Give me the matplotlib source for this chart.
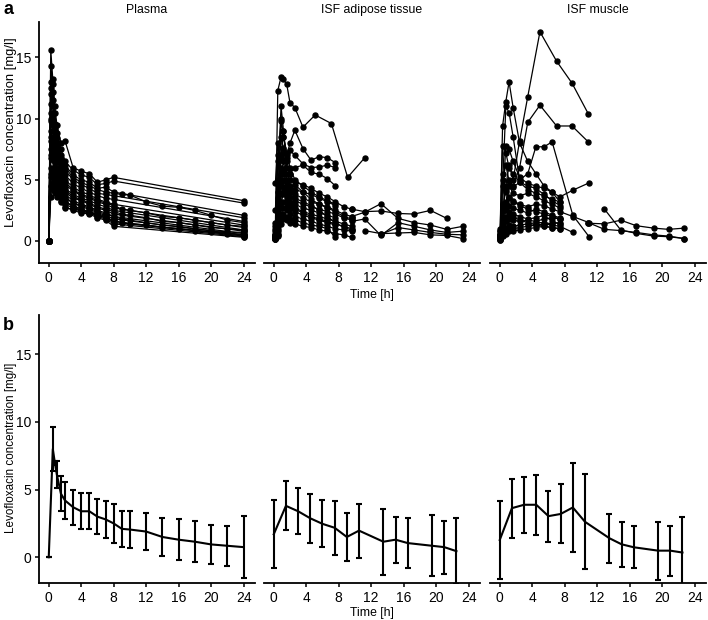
import numpy as np
import matplotlib
matplotlib.use("Agg")
import matplotlib.pyplot as plt

nan = np.nan
plt.rcParams['font.family'] = ['Liberation Sans', 'DejaVu Sans']

# ---------- panel a: individual profiles ----------
# plasma, sampled to 8 h then 24 h
plasma_t_short = [0, 0.25, 0.5, 0.75, 1, 1.5, 2, 3, 4, 5, 6, 7, 8, 24]
plasma_short = [
    [0, 15.6, 13.2, 11.0, 9.5, 8.0, 8.2, 6.0, 5.7, 5.5, 4.8, 5.0, 5.2, 3.3],
    [0, 14.3, 12.8, 10.5, 8.8, 7.5, 6.5, 5.8, 5.4, 5.2, 4.6, 4.7, 4.9, 3.1],
    [0, 13.0, 12.2, 9.6, 8.4, 7.0, 6.2, 5.4, 5.0, 4.8, 4.3, 4.4, 4.0, 2.1],
    [0, 12.0, 11.0, 9.0, 7.8, 6.6, 5.8, 5.0, 4.6, 4.3, 3.9, 3.8, 3.7, 1.9],
    [0, 11.2, 10.4, 8.4, 7.4, 6.2, 5.4, 4.7, 4.3, 4.0, 3.7, 3.5, 3.4, 1.6],
    [0, 10.5, 9.8, 8.0, 7.0, 5.8, 5.0, 4.4, 4.0, 3.8, 3.4, 3.2, 3.0, 1.3],
    [0, 9.8, 9.0, 7.5, 6.5, 5.4, 4.6, 4.1, 3.7, 3.5, 3.2, 3.0, 2.7, 1.1],
    [0, 9.0, 8.4, 7.0, 6.0, 5.0, 4.3, 3.8, 3.5, 3.3, 3.0, 2.8, 2.5, 0.9],
    [0, 8.2, 7.8, 6.4, 5.6, 4.6, 4.0, 3.5, 3.3, 3.0, 2.7, 2.5, 2.2, 0.8],
    [0, 7.5, 7.2, 6.0, 5.2, 4.4, 3.8, 3.3, 3.0, 2.8, 2.5, 2.3, 2.0, 0.6],
    [0, 6.8, 6.6, 5.5, 4.8, 4.1, 3.5, 3.1, 2.8, 2.6, 2.3, 2.1, 1.8, 0.5],
    [0, 6.0, 6.0, 5.1, 4.5, 3.8, 3.2, 2.9, 2.6, 2.4, 2.1, 1.9, 1.6, 0.4],
    [0, 5.2, 5.4, 4.6, 4.1, 3.5, 3.0, 2.7, 2.4, 2.3, 2.0, 1.8, 1.4, 0.35],
    [0, 4.5, 4.8, 4.2, 3.8, 3.3, 2.8, 2.5, 2.3, 2.2, 1.9, 1.7, 1.2, 0.3],
    [0, 3.6, 4.2, 3.9, 3.6, 3.2, 2.7, 2.6, 2.5, 2.4, 2.2, 2.0, 1.5, 0.5],
]
# plasma, full 24 h sampling
plasma_t_long = [0, 0.25, 0.5, 0.75, 1, 1.5, 2, 3, 4, 5, 6, 7, 8, 9, 10,
                 12, 14, 16, 18, 20, 22, 24]
plasma_long = [
    [0, 12.5, 11.5, 9.2, 8.0, 6.8, 6.0, 5.2, 4.8, 4.5, 4.2, 4.0, 3.9, 3.8,
     3.75, 3.2, 2.85, 2.75, 2.5, 2.1, 1.7, 1.5],
    [0, 10.0, 9.5, 7.8, 6.8, 5.6, 4.8, 4.2, 3.8, 3.6, 3.3, 3.1, 2.9, 2.6,
     2.5, 2.3, 2.0, 1.9, 1.7, 1.5, 1.3, 1.2],
    [0, 8.5, 8.0, 6.6, 5.8, 4.8, 4.2, 3.6, 3.4, 3.1, 2.8, 2.6, 2.4, 2.2,
     2.1, 1.9, 1.6, 1.5, 1.3, 1.1, 1.0, 0.9],
    [0, 7.0, 6.8, 5.8, 5.0, 4.2, 3.6, 3.1, 2.9, 2.7, 2.4, 2.2, 2.0, 1.8,
     1.7, 1.5, 1.3, 1.2, 1.0, 0.85, 0.75, 0.7],
    [0, 5.5, 5.8, 5.0, 4.4, 3.7, 3.2, 2.8, 2.5, 2.3, 2.1, 1.9, 1.7, 1.5,
     1.4, 1.3, 1.1, 1.0, 0.85, 0.7, 0.6, 0.5],
]

# ISF adipose tissue
adipose_t_early = [0.2, 0.5, 0.9, 1.2, 1.6, 2.0, 2.6, 3.6, 4.6, 5.6, 6.6,
                   7.6, 8.6, 9.6]
adipose_early = [
    [1.0, 6.5, 9.8, 8.5, 7.0, 8.0, 9.05, 7.55, 6.6, 6.9, 6.8, 6.4, nan, nan],
    [0.8, 4.0, 8.5, 7.6, 6.8, 7.4, 7.0, 6.3, 6.0, 6.05, 6.2, 6.0, nan, nan],
    [0.5, 3.2, 7.0, 9.0, 6.0, 5.5, 6.0, 6.2, 5.6, 5.46, 5.1, 4.5, nan, nan],
    [0.6, 2.5, 6.8, 7.2, 5.5, 5.0, 4.8, 4.6, 4.3, 3.9, 3.6, 3.2, 2.8, 2.6],
    [0.4, 2.0, 5.5, 6.5, 5.0, 4.5, 4.2, 4.0, 3.8, 3.5, 3.2, 2.9, nan, nan],
    [0.3, 1.5, 4.8, 5.8, 4.6, 4.0, 3.8, 3.5, 3.2, 3.0, 2.8, 2.5, 2.2, 2.0],
    [1.5, 3.5, 4.5, 5.0, 4.2, 3.6, 3.3, 3.0, 2.8, 2.6, 2.4, 2.2, 1.9, 1.7],
    [0.3, 1.2, 3.8, 4.4, 3.8, 3.2, 3.0, 2.7, 2.5, 2.3, 2.1, 1.9, nan, nan],
    [0.4, 1.0, 3.2, 3.8, 3.3, 2.9, 2.7, 2.4, 2.2, 2.0, 1.8, 1.6, 1.4, 1.2],
    [0.2, 0.8, 2.8, 3.2, 2.9, 2.6, 2.4, 2.1, 1.9, 1.7, 1.5, 1.3, nan, nan],
    [0.3, 0.6, 2.2, 2.7, 2.5, 2.2, 2.0, 1.8, 1.6, 1.4, 1.2, 1.0, 0.9, 0.8],
    [0.2, 0.5, 1.8, 2.2, 2.0, 1.8, 1.7, 1.5, 1.3, 1.2, 1.0, 0.3, nan, nan],
    [0.15, 0.4, 1.4, 1.8, 1.7, 1.5, 1.4, 1.2, 1.1, 0.9, 0.8, 0.6, 0.5, 0.3],
    [0.2, 3.0, 10.0, 8.5, 7.2, 6.0, 5.0, 4.5, 4.0, 3.6, 3.3, 3.0, nan, nan],
    [0.5, 5.0, 11.0, 9.0, 6.5, 5.5, 4.6, 4.0, 3.4, 3.0, 2.7, 2.4, 2.0, 1.8],
    [4.7, 8.0, 6.0, 5.5, 4.8, 4.2, 3.5, 3.2, 2.9, 2.5, 2.0, 1.5, 1.1, 0.9],
    [2.5, 7.0, 5.0, 4.0, 3.5, 3.0, 2.6, 2.3, 2.0, 1.8, 1.6, 1.4, 1.2, 1.0],
]
adipose_t_slow = [0.2, 0.5, 0.9, 1.2, 1.6, 2.0, 2.6, 3.6, 5.1, 7.1, 9.1, 11.2]
adipose_slow = [
    [1.2, 12.3, 13.4, 13.2, 12.8, 11.3, 10.9, 9.3, 10.3, 9.6, 5.2, 6.8],
]
adipose_t_late = [9.6, 11.2, 13.2, 15.3, 17.3, 19.3, 21.3, 23.3]
adipose_late = [
    [2.6, 2.4, 2.45, 2.25, 2.2, 2.5, 1.85, nan],
    [2.0, 2.35, 3.05, 1.85, 1.5, 1.3, 0.95, 1.2],
    [1.6, 1.8, 0.45, 1.5, 1.2, 0.9, 0.7, 0.8],
    [nan, 0.85, 0.6, 0.65, 0.7, 0.5, 0.45, 0.2],
    [nan, nan, 0.55, 1.1, 0.9, 0.7, 0.55, 0.5],
]

# ISF muscle
muscle_t_early = [0.05, 0.35, 0.75, 1.15, 1.65, 2.45, 3.45, 4.45, 5.45, 6.45,
                  7.4, 9.0, 11.0]
muscle_early = [
    [1.0, 9.4, 11.4, 13.0, 10.9, 8.0, 6.5, 5.5, 4.5, 4.0, 3.2, nan, nan],
    [0.5, 4.5, 11.0, 10.5, 8.5, 5.0, 5.5, 7.7, 7.7, 8.1, nan, 2.1, 0.35],
    [0.3, 3.0, 7.8, 7.5, 6.5, 5.2, 4.7, 4.5, 4.3, 4.0, 3.6, 4.15, 4.75],
    [0.8, 7.8, 7.2, 6.0, 5.5, 4.8, 4.2, 3.9, 3.7, 3.4, 3.2, nan, nan],
    [0.6, 5.0, 6.2, 4.9, 4.4, 4.8, 4.5, 4.3, 3.8, 3.3, 2.9, nan, nan],
    [0.4, 2.5, 4.2, 4.5, 3.9, 3.7, 3.9, 3.6, 3.3, 3.0, 2.7, nan, nan],
    [0.2, 1.5, 3.2, 3.6, 3.3, 3.0, 2.8, 3.0, 2.9, 2.6, 2.4, 2.0, 1.5],
    [0.3, 1.0, 2.5, 2.9, 2.7, 2.5, 2.3, 2.6, 2.4, 2.1, 1.9, nan, nan],
    [0.5, 2.0, 2.8, 2.4, 2.2, 2.0, 1.8, 1.9, 2.1, 1.6, 1.4, nan, nan],
    [0.2, 0.8, 1.6, 1.8, 1.7, 1.6, 1.7, 1.6, 1.8, 1.9, 1.8, nan, nan],
    [0.1, 0.6, 1.1, 1.3, 1.2, 1.3, 1.4, 1.5, 1.5, 1.4, 1.5, nan, nan],
    [0.3, 0.5, 0.9, 1.0, 1.0, 1.1, 1.2, 1.3, 1.4, 1.3, 1.2, 0.7, nan],
    [0.1, 0.4, 0.6, 0.8, 0.8, 0.9, 1.0, 1.1, 1.2, 1.1, 1.0, nan, nan],
    [0.2, 1.2, 2.0, 2.2, 2.0, 1.7, 1.5, 1.3, 1.2, 1.1, 1.0, nan, nan],
    [0.4, 5.5, 4.0, 3.5, 3.2, 2.9, 2.6, 2.4, 2.2, 2.0, 1.8, nan, nan],
]
muscle_t_slow = [0.05, 0.35, 0.75, 1.15, 1.65, 2.45, 3.45, 4.95, 7.0, 8.9, 10.9]
muscle_slow = [
    [0.8, 2.5, 4.5, 6.2, 5.0, 8.2, 11.8, 17.1, 14.7, 12.9, 10.4],
    [0.6, 1.5, 3.0, 5.0, 4.5, 6.0, 9.7, 11.1, 9.4, 9.4, 8.1],
]
muscle_t_late = [10.9, 12.9, 14.9, 16.8, 18.95, 20.8, 22.7]
muscle_late = [
    [1.45, 1.4, 1.7, 1.25, 1.05, 0.95, 1.05],
    [1.5, 0.95, 0.85, 0.7, 0.5, 0.4, 0.2],
    [nan, 2.6, 0.9, 0.62, 0.4, 0.35, 0.2],
]

# ---------- panel b: mean +/- SD ----------
plasma_mean_t = [0, 0.5, 0.75, 1, 1.5, 2, 3, 4, 5, 6, 7, 8, 9, 10, 12, 14,
                 16, 18, 20, 22, 24]
plasma_mean = [0, 8.0, 7.0, 6.1, 4.7, 4.2, 3.7, 3.4, 3.4, 3.0, 2.8, 2.5, 2.1,
               2.05, 1.9, 1.5, 1.3, 1.15, 0.95, 0.85, 0.75]
plasma_sd = [0, 1.65, 0.15, 1.0, 1.3, 1.35, 1.3, 1.33, 1.33, 1.3, 1.38, 1.43,
             1.35, 1.35, 1.37, 1.4, 1.5, 1.53, 1.45, 1.48, 2.3]

isf_mean_t = [0, 1.5, 3, 4.5, 6, 7.5, 9, 10.5, 13.5, 15, 16.5, 19.5, 21, 22.5]
adipose_mean = [1.7, 3.8, 3.4, 2.88, 2.47, 2.18, 1.5, 1.97, 1.15, 1.3, 1.05,
                0.85, 0.75, 0.45]
adipose_sd = [2.5, 1.8, 1.7, 1.82, 1.73, 2.0, 1.8, 2.0, 2.45, 1.7, 1.85, 2.25,
              1.95, 2.45]
muscle_mean = [1.28, 3.63, 3.88, 3.88, 3.04, 3.2, 3.68, 2.62, 1.41, 0.96, 0.74,
               0.49, 0.49, 0.35]
muscle_sd = [2.9, 2.17, 2.08, 2.21, 1.88, 2.18, 3.28, 3.51, 1.82, 1.65, 1.56,
             2.15, 1.84, 2.62]

titles = ["Plasma", "ISF adipose tissue", "ISF muscle"]
ylabel = "Levofloxacin concentration [mg/l]"

W, H = 708, 620
fig = plt.figure(figsize=(W / 100, H / 100), dpi=100)

lefts = [39, 264, 490]
aw = 216


def make_axes(px_left, px_top, px_bottom):
    return fig.add_axes([px_left / W, 1 - px_bottom / H, aw / W,
                         (px_bottom - px_top) / H])


def style(ax, first, ylim):
    ax.set_xlim(-1.2, 25.4)
    ax.set_ylim(*ylim)
    ax.set_xticks(range(0, 25, 4))
    ax.set_yticks([0, 5, 10, 15])
    for s in ["top", "right"]:
        ax.spines[s].set_visible(False)
    ax.spines["bottom"].set_linewidth(1.3)
    ax.spines["left"].set_linewidth(1.3)
    ax.tick_params(labelsize=10, length=3, width=1.1, pad=2.5, colors="black")
    if not first:
        ax.spines["left"].set_visible(False)
        ax.tick_params(axis="y", left=False, labelleft=False)


def draw_profiles(ax, t, rows):
    t = np.asarray(t, dtype=float)
    for r in rows:
        r = np.asarray(r, dtype=float)
        m = ~np.isnan(r)
        ax.plot(t[m], r[m], "-o", color="black", lw=0.9, ms=3.6)


top_axes = [make_axes(l, 22, 263) for l in lefts]
draw_profiles(top_axes[0], plasma_t_short, plasma_short)
draw_profiles(top_axes[0], plasma_t_long, plasma_long)
draw_profiles(top_axes[1], adipose_t_early, adipose_early)
draw_profiles(top_axes[1], adipose_t_slow, adipose_slow)
draw_profiles(top_axes[1], adipose_t_late, adipose_late)
draw_profiles(top_axes[2], muscle_t_early, muscle_early)
draw_profiles(top_axes[2], muscle_t_slow, muscle_slow)
draw_profiles(top_axes[2], muscle_t_late, muscle_late)

for i, (ax, l) in enumerate(zip(top_axes, lefts)):
    style(ax, i == 0, (-1.8, 17.9))
    fig.text((l + aw / 2) / W, 1 - 10 / H, titles[i], fontsize=8.8,
             ha="center", va="center")
top_axes[1].set_xlabel("Time [h]", fontsize=8.8, labelpad=3)
fig.text(11 / W, 1 - 132 / H, ylabel, fontsize=9.4, rotation=90,
         ha="center", va="center")

bot_axes = [make_axes(l, 315, 583) for l in lefts]
means = [(plasma_mean_t, plasma_mean, plasma_sd),
         (isf_mean_t, adipose_mean, adipose_sd),
         (isf_mean_t, muscle_mean, muscle_sd)]
for i, (ax, (t, m, sd)) in enumerate(zip(bot_axes, means)):
    ax.errorbar(t, m, yerr=sd, color="black", lw=1.5, elinewidth=1.5,
                capsize=2, capthick=1.5)
    style(ax, i == 0, (-1.9, 17.9))
bot_axes[1].set_xlabel("Time [h]", fontsize=8.8, labelpad=2)
fig.text(11 / W, 1 - 448 / H, ylabel, fontsize=8.4, rotation=90,
         ha="center", va="center")

fig.text(3 / W, 1 - 10 / H, "a", fontsize=13, fontweight="bold", va="center")
fig.text(3 / W, 1 - 325 / H, "b", fontsize=13, fontweight="bold", va="center")

fig.savefig("out.png", dpi=100)
